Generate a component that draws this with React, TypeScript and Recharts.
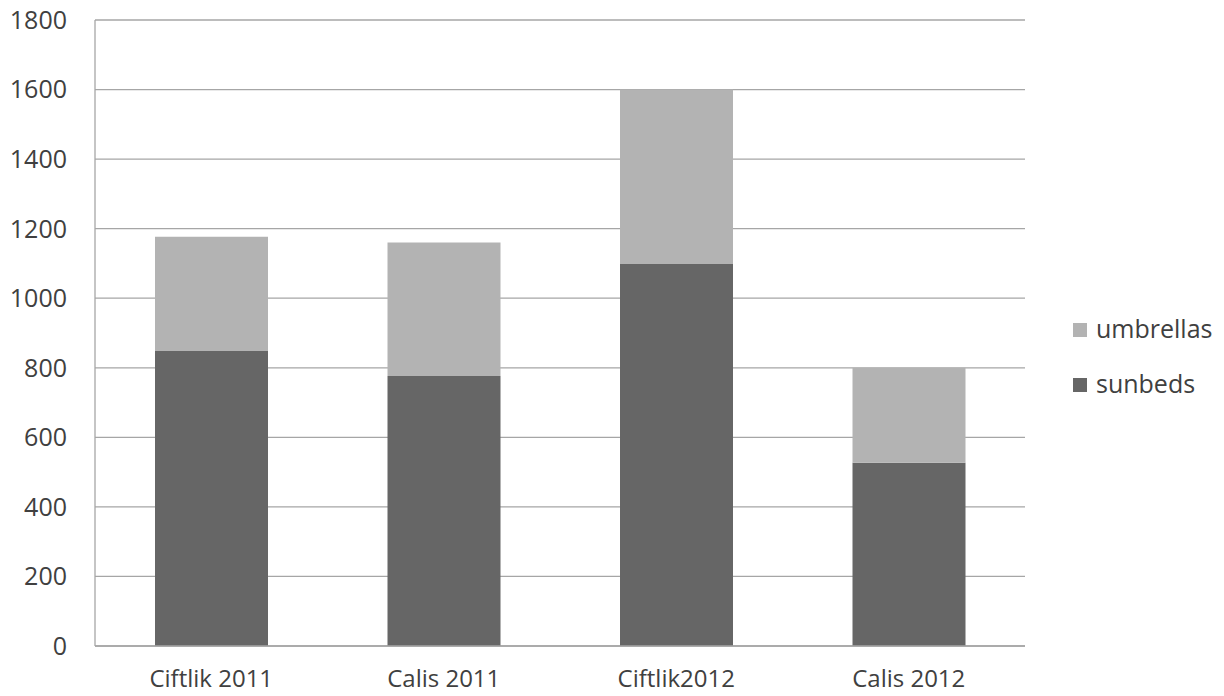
import React from "react";
import {
  BarChart,
  Bar,
  XAxis,
  YAxis,
  CartesianGrid,
  Legend,
} from "recharts";

const categories = ["Ciftlik 2011", "Calis 2011", "Ciftlik2012", "Calis 2012"];
const sunbeds = [848, 776, 1100, 527];
const umbrellas = [329, 384, 500, 273];
const yTicks = [0, 200, 400, 600, 800, 1000, 1200, 1400, 1600, 1800];

const data = categories.map((name, i) => ({
  name,
  sunbeds: sunbeds[i],
  umbrellas: umbrellas[i],
}));

const FONT = "'Open Sans', sans-serif";
const TEXT = "#404040";

// legend shows umbrellas above sunbeds, like the stack
function StackLegend(props: any) {
  const items = [...(props.payload || [])].reverse();
  return (
    <div style={{ fontFamily: FONT, fontSize: 25, color: TEXT }}>
      {items.map((it: any) => (
        <div
          key={it.value}
          style={{ display: "flex", alignItems: "center", height: 55 }}
        >
          <span
            style={{
              display: "inline-block",
              width: 14,
              height: 14,
              background: it.color,
              marginRight: 9,
              marginTop: 4,
            }}
          />
          <span>{it.value}</span>
        </div>
      ))}
    </div>
  );
}

export default function App() {
  return (
    <div style={{ position: "absolute", left: 0, top: 0, background: "#fff" }}>
      <BarChart
        width={1224}
        height={696}
        data={data}
        margin={{ top: 20, right: 49, bottom: 0, left: 0 }}
      >
        <CartesianGrid vertical={false} stroke="#a6a6a6" strokeWidth={1.3} />
        <XAxis
          dataKey="name"
          height={50}
          tickLine={false}
          axisLine={{ stroke: "#a6a6a6", strokeWidth: 1.3 }}
          tickMargin={18}
          tick={{ fill: TEXT, fontSize: 24, fontFamily: FONT }}
          interval={0}
        />
        <YAxis
          width={95}
          domain={[0, 1800]}
          ticks={yTicks}
          tickLine={false}
          axisLine={{ stroke: "#a6a6a6", strokeWidth: 1.3 }}
          tickMargin={22}
          tick={{ fill: TEXT, fontSize: 25, fontFamily: FONT }}
        />
        <Legend
          layout="vertical"
          align="right"
          verticalAlign="top"
          content={<StackLegend />}
          wrapperStyle={{ left: 1073, top: 300, width: 150 }}
        />
        <Bar
          dataKey="sunbeds"
          stackId="a"
          fill="#666666"
          barSize={113}
          isAnimationActive={false}
        />
        <Bar
          dataKey="umbrellas"
          stackId="a"
          fill="#b3b3b3"
          barSize={113}
          isAnimationActive={false}
        />
      </BarChart>
    </div>
  );
}
